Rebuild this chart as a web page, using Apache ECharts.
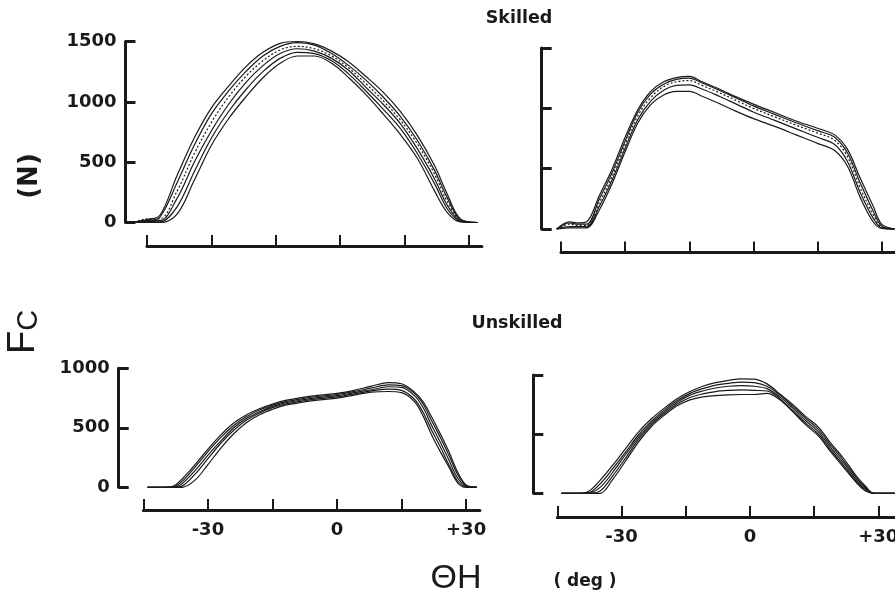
<!DOCTYPE html>
<html>
<head>
<meta charset="utf-8">
<title>Fc vs ΘH – skilled / unskilled</title>
<script src="https://cdn.jsdelivr.net/npm/echarts@6/dist/echarts.min.js"></script>
<style>
  html, body { margin: 0; padding: 0; background: #fff; }
  #chart { width: 895px; height: 597px; }
</style>
</head>
<body>
<div id="chart"></div>
<script>
// crank angle (deg) sample points, one array per panel
const degSkilledLeft = [-48, -45, -42, -38, -34, -30, -26, -22, -18, -14, -10, -6, -2, 2, 6, 10, 14, 18, 22, 25, 28, 32]
const degSkilledRight = [-46, -43, -41, -39, -36, -33, -30, -27, -24, -21, -18, -15, -12, -8, -4, 0, 5, 10, 15, 19, 22, 25, 28, 30, 33]
const degUnskilledLeft = [-44, -40, -38, -36, -33, -30, -27, -24, -21, -18, -15, -12, -8, -4, 0, 4, 8, 12, 15, 18, 20, 22, 24, 26, 28, 30, 32.5]
const degUnskilledRight = [-44, -40, -38, -35, -32, -29, -26, -23, -20, -17, -14, -11, -8, -5, -2, 1, 4, 7, 10, 13, 16, 19, 22, 25, 27, 29, 33.8]

// Fc (N), several trials per panel
const skilledLeft = [
  [0, 25, 60, 390, 700, 950, 1130, 1290, 1410, 1485, 1500, 1480, 1420, 1330, 1210, 1080, 920, 720, 470, 230, 30, 0],
  [0, 15, 45, 330, 640, 900, 1090, 1250, 1380, 1460, 1490, 1470, 1400, 1300, 1180, 1040, 880, 680, 430, 200, 25, 0],
  [0, 30, 30, 260, 570, 830, 1040, 1210, 1340, 1430, 1460, 1440, 1380, 1280, 1150, 1010, 850, 650, 400, 170, 20, 0],
  [0, 20, 15, 200, 500, 760, 980, 1160, 1300, 1400, 1440, 1420, 1360, 1260, 1120, 980, 820, 610, 360, 140, 15, 0],
  [0, 10, 5, 130, 420, 700, 920, 1100, 1250, 1360, 1410, 1400, 1340, 1230, 1090, 940, 780, 570, 320, 110, 10, 0],
  [0, 0, 0, 70, 350, 640, 860, 1040, 1200, 1320, 1380, 1380, 1320, 1200, 1060, 900, 730, 530, 260, 80, 5, 0]
]
const skilledRight = [
  [0, 60, 50, 60, 280, 500, 760, 990, 1140, 1220, 1255, 1265, 1220, 1160, 1095, 1035, 965, 895, 835, 780, 660, 420, 190, 40, 0],
  [0, 50, 40, 40, 250, 470, 730, 970, 1120, 1200, 1240, 1250, 1210, 1150, 1085, 1020, 950, 880, 815, 760, 630, 380, 150, 25, 0],
  [0, 40, 30, 30, 220, 440, 700, 940, 1090, 1180, 1220, 1230, 1190, 1130, 1065, 1000, 930, 860, 795, 735, 600, 340, 120, 15, 0],
  [0, 20, 20, 20, 190, 410, 670, 910, 1060, 1150, 1190, 1195, 1160, 1100, 1035, 970, 900, 830, 760, 700, 560, 300, 90, 10, 0],
  [0, 10, 10, 10, 160, 380, 640, 880, 1030, 1110, 1140, 1140, 1100, 1040, 975, 915, 850, 780, 710, 650, 520, 260, 60, 5, 0]
]
const unskilledLeft = [
  [0, 0, 10, 70, 190, 320, 440, 540, 610, 660, 700, 730, 755, 775, 790, 815, 850, 880, 870, 800, 720, 590, 450, 300, 130, 20, 0],
  [0, 0, 5, 50, 170, 300, 420, 520, 595, 650, 690, 720, 745, 765, 780, 805, 835, 860, 855, 790, 700, 560, 420, 270, 110, 15, 0],
  [0, 0, 0, 30, 140, 270, 390, 500, 580, 635, 680, 710, 735, 755, 770, 795, 820, 845, 840, 770, 670, 520, 380, 230, 80, 10, 0],
  [0, 0, 0, 10, 110, 240, 370, 480, 565, 625, 670, 700, 725, 745, 760, 785, 810, 825, 815, 740, 630, 480, 340, 190, 55, 5, 0],
  [0, 0, 0, 0, 60, 190, 330, 450, 545, 610, 655, 690, 715, 735, 750, 775, 800, 805, 795, 720, 600, 440, 300, 170, 40, 0, 0]
]
const unskilledRight = [
  [0, 0, 10, 110, 240, 380, 520, 630, 720, 800, 860, 905, 935, 955, 968, 965, 925, 840, 750, 650, 560, 420, 290, 140, 60, 0, 0],
  [0, 0, 0, 80, 210, 350, 495, 610, 705, 785, 845, 885, 915, 930, 940, 935, 905, 830, 735, 635, 540, 400, 270, 125, 50, 0, 0],
  [0, 0, 0, 50, 180, 330, 475, 595, 690, 770, 830, 865, 890, 905, 910, 905, 885, 815, 720, 615, 520, 380, 250, 110, 40, 0, 0],
  [0, 0, 0, 20, 150, 300, 455, 580, 675, 755, 810, 840, 860, 870, 875, 870, 865, 800, 700, 595, 500, 360, 230, 95, 30, 0, 0],
  [0, 0, 0, 0, 120, 275, 435, 565, 660, 740, 790, 815, 825, 832, 835, 835, 845, 790, 690, 580, 485, 345, 215, 85, 20, 0, 0]
]

const degTicks = [-45, -30, -15, 0, 15, 30]
const degLabels = [-30, 0, 30]

// pixel layout of each panel (scanned figure)
const panels = [
  { deg: degSkilledLeft, curves: skilledLeft, zeroX: 340.2, ppd: 4.293, axisX: 125.5, y0: 222.5, yTop: 41.5, yMax: 1500, barY: 246, maxDeg: 33, yLabels: true, xLabels: false },
  { deg: degSkilledRight, curves: skilledRight, zeroX: 753.4, ppd: 4.276, axisX: 541.7, y0: 229, yTop: 48, yMax: 1500, barY: 252.5, maxDeg: 33.1, yLabels: false, xLabels: false },
  { deg: degUnskilledLeft, curves: unskilledLeft, zeroX: 337, ppd: 4.303, axisX: 118.7, y0: 487.3, yTop: 368.3, yMax: 1000, barY: 510, maxDeg: 33.2, yLabels: true, xLabels: true },
  { deg: degUnskilledRight, curves: unskilledRight, zeroX: 749.9, ppd: 4.28, axisX: 533.3, y0: 493.3, yTop: 375, yMax: 1000, barY: 517, maxDeg: 33.9, yLabels: false, xLabels: true }
]

const ink = '#1a1a1a'
const labelFont = { fontFamily: 'DejaVu Sans', fontWeight: 'bold', fontSize: 18, color: ink }

const grid = []
const xAxis = []
const yAxis = []
const series = []

panels.forEach((p, i) => {
  const rightPx = p.zeroX + p.maxDeg * p.ppd
  // curves grid
  grid.push({
    left: p.axisX, top: p.yTop, width: rightPx - p.axisX, height: p.y0 - p.yTop,
    containLabel: false, outerBoundsMode: 'none'
  })
  xAxis.push({
    type: 'value', gridIndex: i * 2, show: false,
    min: (p.axisX - p.zeroX) / p.ppd, max: p.maxDeg
  })
  yAxis.push({
    type: 'value', gridIndex: i * 2, position: 'left', min: 0, max: p.yMax, interval: 500,
    axisLine: { show: true, onZero: false, lineStyle: { color: ink, width: 3 } },
    axisTick: { show: true, inside: true, length: 10, lineStyle: { color: ink, width: 3 } },
    axisLabel: { show: p.yLabels, margin: 9, formatter: v => String(v), ...labelFont },
    splitLine: { show: false }
  })
  // separate angle bar below the curves
  const barLeft = p.zeroX - 45 * p.ppd
  grid.push({
    left: barLeft, top: p.barY - 12, width: rightPx - barLeft, height: 12,
    containLabel: false, outerBoundsMode: 'none'
  })
  xAxis.push({
    type: 'value', gridIndex: i * 2 + 1, position: 'bottom',
    min: -45, max: p.maxDeg,
    axisLine: { show: true, onZero: false, lineStyle: { color: ink, width: 3 } },
    axisTick: { show: true, inside: true, length: 11, customValues: degTicks, lineStyle: { color: ink, width: 2 } },
    axisLabel: {
      show: p.xLabels, margin: 11, customValues: degLabels,
      formatter: v => (v > 0 ? '+' + v : String(v)),
      ...labelFont
    },
    splitLine: { show: false }
  })
  yAxis.push({ type: 'value', gridIndex: i * 2 + 1, show: false, min: 0, max: 1 })

  p.curves.forEach((c, k) => {
    series.push({
      type: 'line',
      xAxisIndex: i * 2,
      yAxisIndex: i * 2,
      data: p.deg.map((d, j) => [d, c[j]]),
      smooth: 0.35,
      showSymbol: false,
      clip: false,
      silent: true,
      lineStyle: { color: ink, width: 1.2, type: k === 2 && i < 2 ? [2, 2] : 'solid' }
    })
  })
})

const chart = echarts.init(document.getElementById('chart'))
chart.setOption({
  backgroundColor: '#fff',
  animation: false,
  grid, xAxis, yAxis, series,
  graphic: [
    { type: 'text', x: 519, y: 18, style: { text: 'Skilled', fill: ink, font: 'bold 17.5px "DejaVu Sans"', align: 'center', verticalAlign: 'middle' } },
    { type: 'text', x: 517, y: 323, style: { text: 'Unskilled', fill: ink, font: 'bold 17.5px "DejaVu Sans"', align: 'center', verticalAlign: 'middle' } },
    { type: 'text', x: 30, y: 176, rotation: Math.PI / 2, style: { text: '(N)', fill: ink, font: 'bold 26px "DejaVu Sans"', align: 'center', verticalAlign: 'middle' } },
    {
      type: 'text', x: 24, y: 332, rotation: Math.PI / 2,
      style: {
        text: '{f|F}{c|C}', fill: ink, align: 'center', verticalAlign: 'middle',
        rich: {
          f: { fontFamily: 'Liberation Sans', fontSize: 38, fill: ink, verticalAlign: 'bottom' },
          c: { fontFamily: 'Liberation Sans', fontSize: 29, fill: ink, verticalAlign: 'bottom' }
        }
      }
    },
    { type: 'text', x: 456, y: 579, style: { text: 'ΘH', fill: ink, font: '34px "Liberation Sans"', align: 'center', verticalAlign: 'middle' } },
    { type: 'text', x: 585, y: 582, style: { text: '( deg )', fill: ink, font: 'bold 17px "DejaVu Sans"', align: 'center', verticalAlign: 'middle' } }
  ]
})
</script>
</body>
</html>
